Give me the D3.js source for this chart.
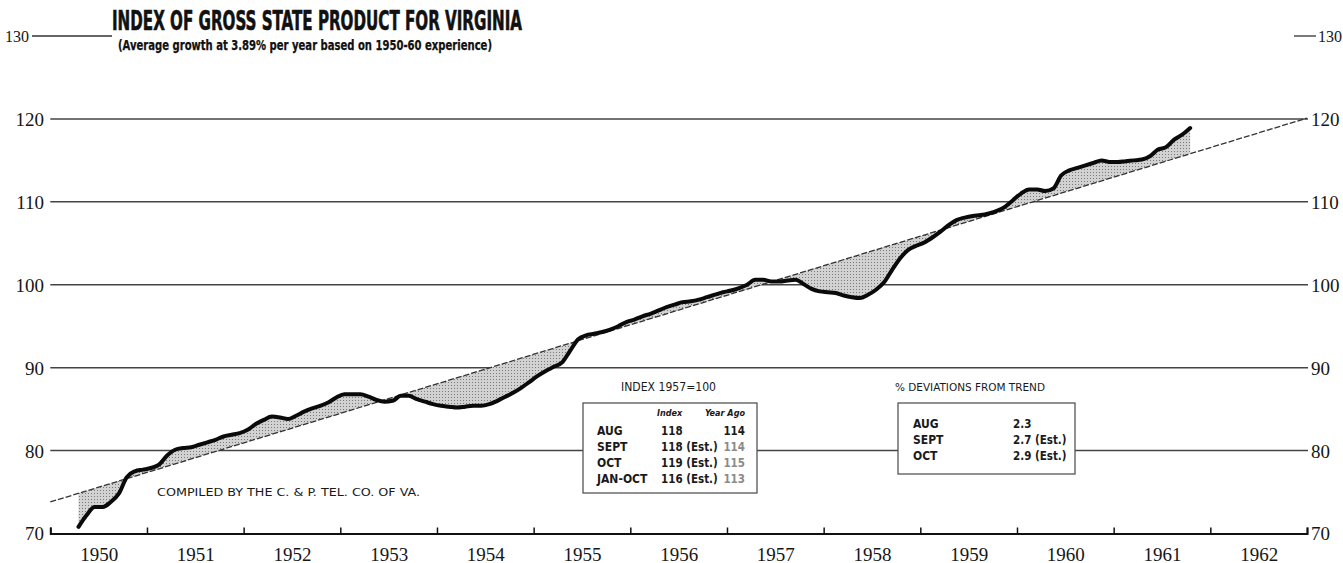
<!DOCTYPE html>
<html>
<head>
<meta charset="utf-8">
<script src="https://cdn.jsdelivr.net/npm/d3@7"></script>
<style>
  body { margin: 0; background: #fff; }
  svg { display: block; }
  .num { font-family: "Liberation Serif", "DejaVu Serif", serif; fill: #161616; }
  .head { font-family: "DejaVu Sans Condensed", "DejaVu Sans", sans-serif; font-stretch: condensed; font-weight: bold; fill: #111; }
  .tbl { font-family: "DejaVu Sans Condensed", "DejaVu Sans", sans-serif; font-stretch: condensed; fill: #1a1a1a; }
</style>
</head>
<body>
<svg id="chart" width="1343" height="563"></svg>
<script>
// ---- data ----
const yearLabels = [1950, 1951, 1952, 1953, 1954, 1955, 1956, 1957, 1958, 1959, 1960, 1961, 1962];
const yearTicks = [1950, 1951, 1952, 1953, 1954, 1955, 1956, 1957, 1958, 1959, 1960, 1961, 1962, 1963];
const gridValues = [80, 90, 100, 110, 120];
const axisLabels = [70, 80, 90, 100, 110, 120];
const topValue = 130;

// monthly index (1957 = 100), April 1950 through October 1961
const firstYear = 1950;
const firstMonth = 4;
const indexValues = [
  70.8, 72.2, 73.2, 73.2, 73.8, 74.8, 76.8, 77.5, 77.7,                       // 1950 Apr-Dec
  77.9, 78.3, 79.4, 80.1, 80.3, 80.4, 80.7, 81.0, 81.3, 81.7, 81.9, 82.1,     // 1951
  82.5, 83.2, 83.7, 84.1, 84.0, 83.8, 84.2, 84.7, 85.1, 85.4, 85.8, 86.4,     // 1952
  86.8, 86.8, 86.8, 86.5, 86.1, 85.9, 86.0, 86.6, 86.6, 86.2, 85.9, 85.6,     // 1953
  85.4, 85.3, 85.2, 85.3, 85.4, 85.4, 85.6, 86.0, 86.5, 87.0, 87.6, 88.3,     // 1954
  89.0, 89.6, 90.1, 90.6, 92.0, 93.4, 93.9, 94.1, 94.3, 94.6, 95.0, 95.5,     // 1955
  95.8, 96.2, 96.5, 96.9, 97.3, 97.6, 97.9, 98.0, 98.2, 98.5, 98.8, 99.1,     // 1956
  99.3, 99.6, 100.0, 100.6, 100.6, 100.4, 100.4, 100.5, 100.6, 100.1, 99.5, 99.2, // 1957
  99.1, 99.0, 98.7, 98.5, 98.4, 98.8, 99.4, 100.3, 101.8, 103.2, 104.2, 104.7, // 1958
  105.1, 105.7, 106.4, 107.2, 107.8, 108.1, 108.3, 108.4, 108.6, 108.9, 109.4, 110.2, // 1959
  111.0, 111.5, 111.5, 111.3, 111.6, 113.2, 113.8, 114.1, 114.4, 114.7, 115.0, 114.8, // 1960
  114.8, 114.9, 115.0, 115.1, 115.5, 116.3, 116.6, 117.5, 118.1, 118.9        // 1961 Jan-Oct
];

// trend line (average growth 3.89% per year, 1950-60)
const trendYears = [1950, 1963];
const trendValues = [73.8, 120.1];

// boxed tables
const tableHeader = "INDEX 1957=100";
const tableCols = ["Index", "Year Ago"];
const tableMonths = ["AUG", "SEPT", "OCT", "JAN-OCT"];
const tableIndex = ["118", "118 (Est.)", "119 (Est.)", "116 (Est.)"];
const tableYearAgo = ["114", "114", "115", "113"];
const devHeader = "% DEVIATIONS FROM TREND";
const devMonths = ["AUG", "SEPT", "OCT"];
const devValues = ["2.3", "2.7 (Est.)", "2.9 (Est.)"];

const titleText = "INDEX OF GROSS STATE PRODUCT FOR VIRGINIA";
const subtitleText = "(Average growth at 3.89% per year based on 1950-60 experience)";
const creditText = "COMPILED BY THE C. & P. TEL. CO. OF VA.";

// ---- build series ----
const series = indexValues.map((v, i) => {
  const m = firstMonth - 1 + i;
  return { t: firstYear + Math.floor(m / 12) + ((m % 12) + 0.5) / 12, v };
});

// ---- scales ----
const svg = d3.select("#chart");
const x = d3.scaleLinear().domain([1950, 1963]).range([50.3, 1307]);
const y = d3.scaleLinear().domain([70, 130]).range([533.5, 36]);
const trend = d3.scaleLinear().domain(trendYears).range(trendValues);

// stipple used for the deviation shading
const defs = svg.append("defs");
const pat = defs.append("pattern").attr("id", "stipple")
  .attr("width", 3).attr("height", 3).attr("patternUnits", "userSpaceOnUse");
pat.append("rect").attr("width", 3).attr("height", 3).attr("fill", "#d2d2d2");
pat.append("rect").attr("x", 1).attr("y", 1).attr("width", 1).attr("height", 1).attr("fill", "#7a7a7a");

// ---- gridlines ----
svg.append("g").selectAll("line").data(gridValues).join("line")
  .attr("x1", x(1950)).attr("x2", x(1963) + 1)
  .attr("y1", d => y(d)).attr("y2", d => y(d))
  .attr("stroke", "#444").attr("stroke-width", 1.5);

// short 130 rules at the top corners
svg.append("line").attr("x1", 32).attr("x2", 112).attr("y1", y(topValue)).attr("y2", y(topValue))
  .attr("stroke", "#333").attr("stroke-width", 1.3);
svg.append("line").attr("x1", 1294).attr("x2", 1316).attr("y1", y(topValue)).attr("y2", y(topValue))
  .attr("stroke", "#333").attr("stroke-width", 1.3);
svg.append("text").attr("class", "num").attr("x", 29).attr("y", y(topValue) + 6)
  .attr("text-anchor", "end").attr("font-size", 16).text(topValue);
svg.append("text").attr("class", "num").attr("x", 1318).attr("y", y(topValue) + 6)
  .attr("font-size", 16).text(topValue);

// ---- value axes (left and right) ----
const leftAxis = svg.append("g").attr("transform", `translate(44,0)`)
  .call(d3.axisLeft(y).tickValues(axisLabels).tickSize(0).tickPadding(0));
const rightAxis = svg.append("g").attr("transform", `translate(1311,0)`)
  .call(d3.axisRight(y).tickValues(axisLabels).tickSize(0).tickPadding(0));
[leftAxis, rightAxis].forEach(g => {
  g.select(".domain").remove();
  g.selectAll("text").attr("class", "num").attr("font-size", 19)
    .attr("fill", "#161616").attr("dy", "0.34em");
});

// ---- shaded deviation from trend ----
svg.append("path").datum(series)
  .attr("fill", "url(#stipple)")
  .attr("d", d3.area().curve(d3.curveMonotoneX)
    .x(d => x(d.t)).y0(d => y(trend(d.t))).y1(d => y(d.v)));

// trend line
svg.append("line")
  .attr("x1", x(trendYears[0])).attr("y1", y(trendValues[0]))
  .attr("x2", x(trendYears[1])).attr("y2", y(trendValues[1]))
  .attr("stroke", "#333").attr("stroke-width", 1.3).attr("stroke-dasharray", "6,2");

// index line
svg.append("path").datum(series)
  .attr("fill", "none").attr("stroke", "#0a0a0a").attr("stroke-width", 4)
  .attr("stroke-linejoin", "round").attr("stroke-linecap", "round")
  .attr("d", d3.line().curve(d3.curveMonotoneX).x(d => x(d.t)).y(d => y(d.v)));

// ---- time axis ----
const tickAxis = svg.append("g").attr("transform", `translate(0,${y(70)})`)
  .call(d3.axisBottom(x).tickValues(yearTicks).tickSize(-6).tickFormat(""));
tickAxis.select(".domain").attr("stroke", "#111").attr("stroke-width", 2);
tickAxis.selectAll(".tick line").attr("stroke", "#111").attr("stroke-width", 1.5);

const labelAxis = svg.append("g").attr("transform", `translate(0,${y(70)})`)
  .call(d3.axisBottom(x).tickValues(yearLabels.map(d => d + 0.5)).tickSize(0).tickPadding(0)
    .tickFormat(d => Math.floor(d)));
labelAxis.select(".domain").remove();
labelAxis.selectAll("text").attr("class", "num").attr("font-size", 19)
  .attr("fill", "#161616").attr("dy", 0).attr("y", 27);

// ---- titles ----
svg.append("text").attr("class", "head").attr("x", 112).attr("y", 30)
  .attr("font-size", 26).attr("stroke", "#111").attr("stroke-width", 0.6)
  .attr("textLength", 410).attr("lengthAdjust", "spacingAndGlyphs")
  .text(titleText);
svg.append("text").attr("class", "head").attr("x", 118).attr("y", 50)
  .attr("font-size", 13.5).attr("stroke", "#111").attr("stroke-width", 0.25)
  .attr("textLength", 374).attr("lengthAdjust", "spacingAndGlyphs")
  .text(subtitleText);

svg.append("text").attr("class", "tbl").attr("x", 157).attr("y", 496)
  .attr("font-size", 11).attr("textLength", 263).attr("lengthAdjust", "spacingAndGlyphs")
  .text(creditText);

// ---- index table ----
const t1 = { x: 583, y: 403, w: 174, h: 90 };
svg.append("text").attr("class", "tbl").attr("x", 621).attr("y", 391)
  .attr("font-size", 12).attr("textLength", 95).attr("lengthAdjust", "spacingAndGlyphs")
  .text(tableHeader);
svg.append("rect").attr("x", t1.x).attr("y", t1.y).attr("width", t1.w).attr("height", t1.h)
  .attr("fill", "#fff").attr("stroke", "#555").attr("stroke-width", 1.3);
svg.append("text").attr("class", "tbl").attr("x", 657).attr("y", 416)
  .attr("font-size", 9).attr("font-style", "italic").attr("font-weight", "bold").text(tableCols[0]);
svg.append("text").attr("class", "tbl").attr("x", 745).attr("y", 416).attr("text-anchor", "end")
  .attr("font-size", 9).attr("font-style", "italic").attr("font-weight", "bold").text(tableCols[1]);
const rowY1 = i => 435 + i * 16;
svg.append("g").selectAll("text").data(tableMonths).join("text")
  .attr("class", "tbl").attr("x", 597).attr("y", (d, i) => rowY1(i))
  .attr("font-size", 12).attr("font-weight", "bold").text(d => d);
svg.append("g").selectAll("text").data(tableIndex).join("text")
  .attr("class", "tbl").attr("x", 661).attr("y", (d, i) => rowY1(i))
  .attr("font-size", 11.5).attr("font-weight", "bold").text(d => d);
svg.append("g").selectAll("text").data(tableYearAgo).join("text")
  .attr("class", "tbl").attr("x", 745).attr("y", (d, i) => rowY1(i)).attr("text-anchor", "end")
  .attr("font-size", 11.5).attr("font-weight", "bold")
  .style("fill", (d, i) => i === 0 ? "#1a1a1a" : "#8a8a8a").text(d => d);

// ---- deviation table ----
const t2 = { x: 898, y: 403, w: 177, h: 71 };
svg.append("text").attr("class", "tbl").attr("x", 895).attr("y", 391)
  .attr("font-size", 11).attr("textLength", 150).attr("lengthAdjust", "spacingAndGlyphs")
  .text(devHeader);
svg.append("rect").attr("x", t2.x).attr("y", t2.y).attr("width", t2.w).attr("height", t2.h)
  .attr("fill", "#fff").attr("stroke", "#555").attr("stroke-width", 1.3);
const rowY2 = i => 428 + i * 16;
svg.append("g").selectAll("text").data(devMonths).join("text")
  .attr("class", "tbl").attr("x", 913).attr("y", (d, i) => rowY2(i))
  .attr("font-size", 12).attr("font-weight", "bold").text(d => d);
svg.append("g").selectAll("text").data(devValues).join("text")
  .attr("class", "tbl").attr("x", 1013).attr("y", (d, i) => rowY2(i))
  .attr("font-size", 11.5).attr("font-weight", "bold").text(d => d);
</script>
</body>
</html>
